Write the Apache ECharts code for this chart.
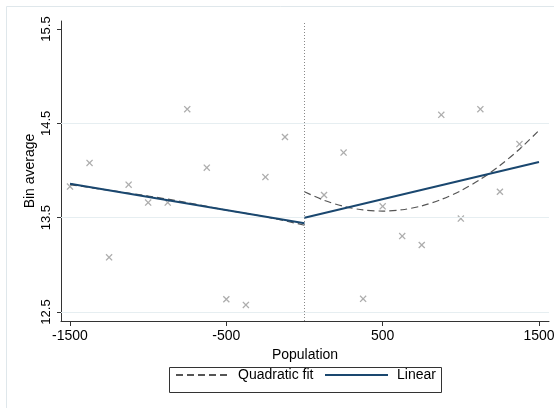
<!DOCTYPE html>
<html>
<head>
<meta charset="utf-8">
<script src="https://cdn.jsdelivr.net/npm/echarts@6/dist/echarts.min.js"></script>
<style>
  html, body { margin: 0; padding: 0; background: #fff; }
  #chart { width: 554px; height: 408px; }
</style>
</head>
<body>
<div id="chart"></div>
<script>
// Bin centres and bin averages on each side of the cutoff
const leftBinX = [-1500, -1375, -1250, -1125, -1000, -875, -750, -625, -500, -375, -250, -125];
const leftBinAvg = [13.83, 14.08, 13.08, 13.85, 13.66, 13.66, 14.65, 14.03, 12.635, 12.575, 13.93, 14.355];
const rightBinX = [125, 250, 375, 500, 625, 750, 875, 1000, 1125, 1250, 1375];
const rightBinAvg = [13.74, 14.19, 12.64, 13.62, 13.305, 13.21, 14.59, 13.49, 14.65, 13.775, 14.28];

// Linear fits (end points of each side)
const linLeftX = [-1500, 0];
const linLeftY = [13.86, 13.44];
const linRightX = [0, 1500];
const linRightY = [13.50, 14.09];

// Quadratic fits sampled along each side
const quadLeftX = [-1500, -1250, -1000, -750, -500, -250, 0];
const quadLeftY = [13.85, 13.79, 13.73, 13.66, 13.58, 13.51, 13.42];
const quadRightX = [0, 125, 250, 375, 500, 625, 750, 875, 1000, 1125, 1250, 1375, 1500];
const quadRightY = [13.775, 13.684, 13.62, 13.582, 13.57, 13.584, 13.625, 13.693, 13.786, 13.906, 14.053, 14.226, 14.425];

// Axis ticks
const xTicks = [-1500, -500, 500, 1500];
const yTicks = [12.5, 13.5, 14.5, 15.5];
const yGrid = [12.5, 13.5, 14.5];
const cutoff = 0;

const zip = (xs, ys) => xs.map((x, i) => [x, ys[i]]);

const FONT = '"Liberation Sans", Arial, sans-serif';
const NAVY = '#1a476f';
const DASH = '#555555';

// "x" marker drawn as a filled cross outline
const crossPath = 'path://M1.3,0 L5,3.7 L8.7,0 L10,1.3 L6.3,5 L10,8.7 L8.7,10 L5,6.3 L1.3,10 L0,8.7 L3.7,5 L0,1.3 Z';

const chart = echarts.init(document.getElementById('chart'), null, { renderer: 'canvas' });

const legendCommon = {
  top: 368, padding: 0, itemHeight: 14, itemGap: 0,
  textStyle: { fontSize: 14, color: '#000', fontFamily: FONT, padding: [0, 0, 0, 4] },
  itemStyle: { opacity: 0 },
  selectedMode: false, z: 10
};

chart.setOption({
  backgroundColor: '#ffffff',
  animation: false,
  textStyle: { fontFamily: FONT },
  graphic: [
    {
      type: 'rect', silent: true, z: -10,
      shape: { x: 6.5, y: 6.5, width: 620, height: 520 },
      style: { fill: 'none', stroke: '#dfe7eb', lineWidth: 1 }
    },
    {
      type: 'rect', silent: true,
      shape: { x: 169.5, y: 367.5, width: 272, height: 25 },
      style: { fill: '#ffffff', stroke: '#333333', lineWidth: 1 }
    }
  ],
  grid: { left: 61, right: 5, top: 21, bottom: 87, containLabel: false, outerBoundsMode: 'none' },
  legend: [
    Object.assign({ data: ['Quadratic fit'], left: 175, itemWidth: 53 }, legendCommon),
    Object.assign({ data: ['Linear'], left: 324, itemWidth: 63 }, legendCommon)
  ],
  xAxis: {
    type: 'value', min: -1557.6, max: 1564,
    name: 'Population', nameLocation: 'middle', nameGap: 21,
    nameTextStyle: { fontSize: 14, color: '#000', fontFamily: FONT },
    axisLine: { show: true, onZero: false, lineStyle: { color: '#333', width: 1 } },
    axisTick: { show: true, length: 5, customValues: xTicks, lineStyle: { color: '#333' } },
    axisLabel: {
      customValues: xTicks, fontSize: 14, color: '#000', margin: 8, fontFamily: FONT,
      formatter: v => String(v)
    },
    splitLine: { show: false }
  },
  yAxis: {
    type: 'value', min: 12.4046, max: 15.585,
    name: 'Bin average', nameLocation: 'middle', nameGap: 24, nameRotate: 90,
    nameMoveOverlap: false,
    nameTextStyle: { fontSize: 14, color: '#000', fontFamily: FONT },
    axisLine: { show: true, onZero: false, lineStyle: { color: '#333', width: 1 } },
    axisTick: { show: true, length: 4, customValues: yTicks, lineStyle: { color: '#333' } },
    axisLabel: {
      customValues: yTicks, fontSize: 13, color: '#000', rotate: 90, margin: 8, fontFamily: FONT,
      formatter: v => v.toFixed(1)
    },
    splitLine: { show: false }
  },
  series: [
    {
      name: 'Bins', type: 'scatter', z: 3,
      data: zip(leftBinX, leftBinAvg).concat(zip(rightBinX, rightBinAvg)),
      symbol: crossPath, symbolSize: 7,
      itemStyle: { color: '#999999' },
      markLine: {
        silent: true, symbol: 'none', label: { show: false }, animation: false,
        data: yGrid.map(v => ({ yAxis: v, lineStyle: { color: '#e6eef1', width: 1, type: 'solid' } }))
          .concat([{ xAxis: cutoff, lineStyle: { color: '#888', width: 1, type: [1, 2] } }])
      }
    },
    {
      name: 'Quadratic fit', type: 'line', z: 4, showSymbol: false, symbol: 'none', smooth: 0.3,
      data: zip(quadLeftX, quadLeftY),
      lineStyle: { color: DASH, width: 1.2, type: [7, 4] },
      itemStyle: { color: DASH }
    },
    {
      name: 'Quadratic fit', type: 'line', z: 4, showSymbol: false, symbol: 'none', smooth: 0.3,
      data: zip(quadRightX, quadRightY),
      lineStyle: { color: DASH, width: 1.2, type: [7, 4] },
      itemStyle: { color: DASH }
    },
    {
      name: 'Linear', type: 'line', z: 5, showSymbol: false, symbol: 'none',
      data: zip(linLeftX, linLeftY),
      lineStyle: { color: NAVY, width: 2 },
      itemStyle: { color: NAVY }
    },
    {
      name: 'Linear', type: 'line', z: 5, showSymbol: false, symbol: 'none',
      data: zip(linRightX, linRightY),
      lineStyle: { color: NAVY, width: 2 },
      itemStyle: { color: NAVY }
    }
  ]
});
</script>
</body>
</html>
